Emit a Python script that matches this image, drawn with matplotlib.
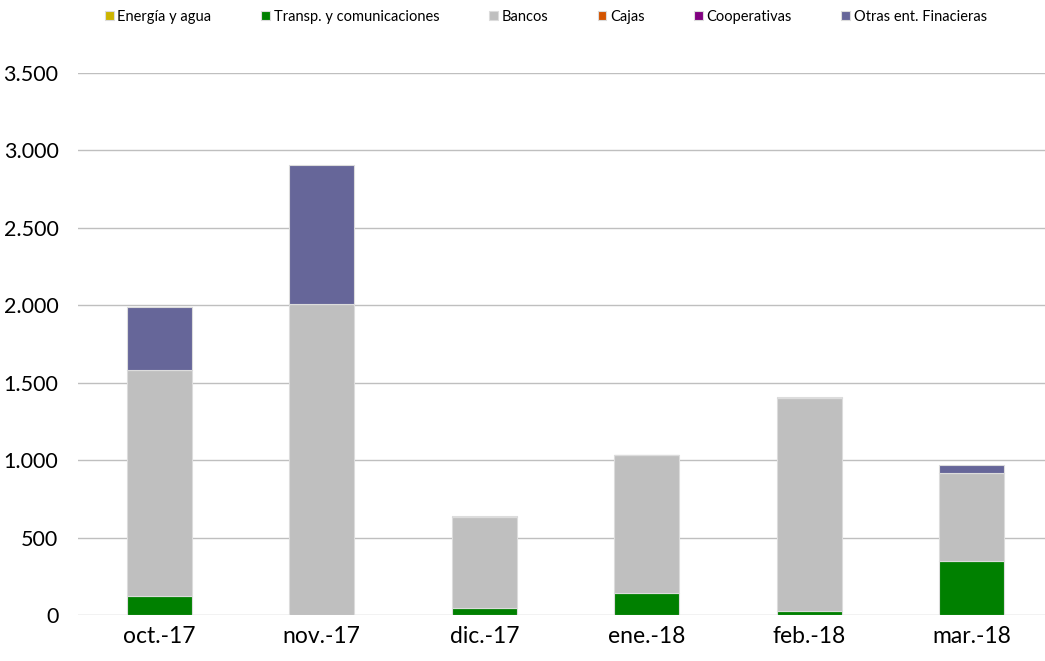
import matplotlib.pyplot as plt
import matplotlib.ticker as mticker
import numpy as np

plt.rcParams['font.family'] = ['Lato', 'DejaVu Sans']

meses = ['oct.-17', 'nov.-17', 'dic.-17', 'ene.-18', 'feb.-18', 'mar.-18']
series = ['Energía y agua', 'Transp. y comunicaciones', 'Bancos', 'Cajas',
          'Cooperativas', 'Otras ent. Finacieras']
energia = [0, 0, 0, 0, 0, 0]
transp = [123, 0, 45, 144, 28, 348]
bancos = [1459, 2008, 590, 887, 1371, 569]
cajas = [0, 0, 0, 0, 0, 0]
coop = [0, 0, 0, 0, 0, 0]
otras = [407, 898, 6, 3, 6, 53]
colores = ['#ccb400', '#008000', '#bfbfbf', '#d35400', '#800080', '#666699']

fig = plt.figure(figsize=(10.45, 6.61), dpi=100)
ax = fig.add_axes([0.0746, 0.0696, 0.9254, 0.82])

x = np.arange(len(meses))
base = np.zeros(len(meses))
for nombre, vals, c in zip(series, [energia, transp, bancos, cajas, coop, otras], colores):
    ax.bar(x, vals, 0.4, bottom=base, color=c, label=nombre,
           edgecolor='#dcdcdc', linewidth=0.8, zorder=3)
    base += np.array(vals)

ax.set_ylim(0, 3500)
ax.set_xlim(-0.5, 5.45)
ax.set_yticks(np.arange(0, 3501, 500))
ax.yaxis.set_major_formatter(mticker.FuncFormatter(lambda v, p: f'{int(v):,}'.replace(',', '.')))
ax.set_xticks(x)
ax.set_xticklabels(meses)
ax.grid(axis='y', color='#bfbfbf', linewidth=1, zorder=0)
for s in ax.spines.values():
    s.set_visible(False)
ax.tick_params(length=0, labelsize=16.5, colors='black')
ax.tick_params(axis='x', pad=8)
ax.tick_params(axis='y', pad=14, labelsize=15.5)

fig.legend(loc='upper left', bbox_to_anchor=(0.088, 1.005), ncol=6, frameon=False,
           fontsize=10.5, handlelength=0.6, handleheight=0.6, handletextpad=0.25,
           columnspacing=3.4)

fig.savefig('out.png', dpi=100)
